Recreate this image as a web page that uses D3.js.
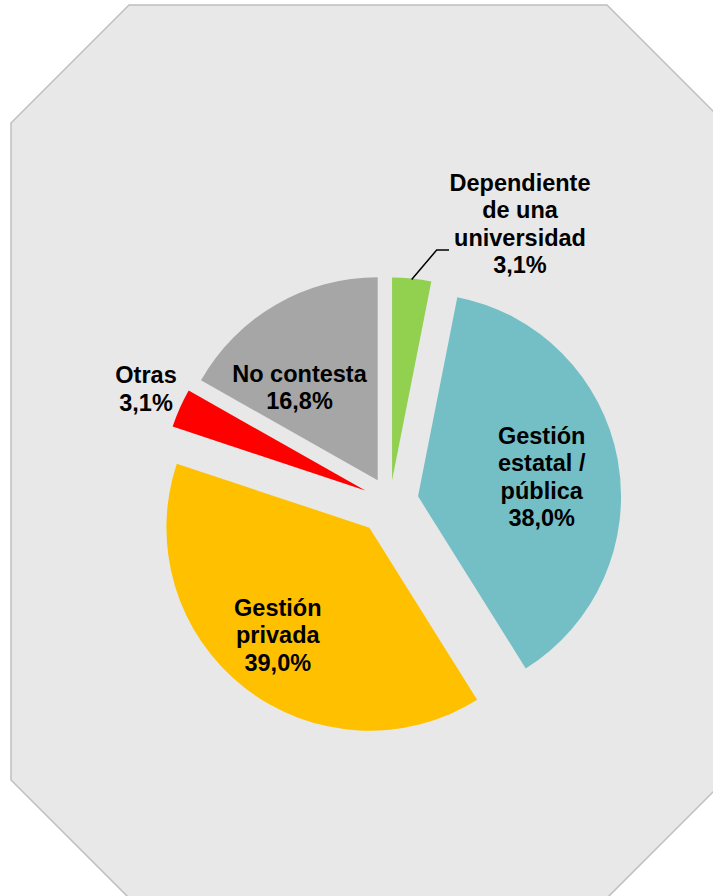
<!DOCTYPE html>
<html>
<head>
<meta charset="utf-8">
<script src="https://cdn.jsdelivr.net/npm/d3@7"></script>
<style>
  body { margin: 0; background: #fff; }
  text { font-family: "Liberation Sans", Arial, sans-serif; font-weight: bold; fill: #000; }
</style>
</head>
<body>
<div id="chart"></div>
<script>
// chart data
var categories = ["Dependiente de una universidad", "Gestión estatal / pública", "Gestión privada", "Otras", "No contesta"];
var values = [3.1, 38.0, 39.0, 3.1, 16.8];
var labelLines = [["Dependiente", "de una", "universidad"], ["Gestión", "estatal /", "pública"], ["Gestión", "privada"], ["Otras"], ["No contesta"]];
var colors = ["#92d050", "#73bfc5", "#ffc000", "#ff0000", "#a6a6a6"];

// layout
var width = 713, height = 896;
var cx = 390, cy = 501.5, radius = 203;
var explode = [21, 28.5, 33.3, 27, 24.5];          // px pulled out along slice bisector
var labelOffset = [[130, -277.5], [151.7, -24.5], [-112.2, 133.5], [-244, -112.5], [-90.5, -114]]; // label block centre, relative to pie centre
var fontSize = 23.5, lineH = 27.5;

var locale = d3.formatLocale({decimal: ",", thousands: ".", grouping: [3]});
var fmt = locale.format(".1f");

var svg = d3.select("#chart").append("svg")
    .attr("width", width)
    .attr("height", height);

// octagon background
var cut = 118;
var oLeft = 11, oRight = 725, oTop = 5, oBottom = 898;
var octagon = [[oLeft, oTop + cut], [oLeft + cut, oTop], [oRight - cut, oTop], [oRight, oTop + cut],
               [oRight, oBottom - cut], [oRight - cut, oBottom], [oLeft + cut, oBottom], [oLeft, oBottom - cut]];
svg.append("polygon")
    .attr("points", octagon.map(function(p) { return p.join(","); }).join(" "))
    .attr("fill", "#e8e8e8")
    .attr("stroke", "#bfbfbf")
    .attr("stroke-width", 1.5);

var data = categories.map(function(c, i) { return {name: c, value: values[i], idx: i}; });

var pie = d3.pie().sort(null).value(function(d) { return d.value; });
var arc = d3.arc().innerRadius(0).outerRadius(radius);

var arcs = pie(data);

var g = svg.append("g").attr("transform", "translate(" + cx + "," + cy + ")");

g.selectAll(".slice")
    .data(arcs)
    .enter()
    .append("path")
    .attr("class", "slice")
    .attr("fill", function(d) { return colors[d.data.idx]; })
    .attr("transform", function(d) {
        var a = (d.startAngle + d.endAngle) / 2;
        var e = explode[d.data.idx];
        return "translate(" + (Math.sin(a) * e) + "," + (-Math.cos(a) * e) + ")";
    })
    .attr("d", arc);

// leader line for the small top slice
var first = arcs[0];
var fa = (first.startAngle + first.endAngle) / 2;
var fe = explode[0];
var edgePt = [Math.sin(fa) * (fe + radius - 1), -Math.cos(fa) * (fe + radius - 1)];
var lab0 = labelOffset[0];
var elbowY = lab0[1] + 26;
g.append("path")
    .attr("d", "M" + edgePt[0] + "," + edgePt[1] +
               "L" + (edgePt[0] + 25) + "," + elbowY +
               "L" + (lab0[0] - 71) + "," + elbowY)
    .attr("fill", "none")
    .attr("stroke", "#000")
    .attr("stroke-width", 1.5);

// labels
var labels = g.selectAll(".label")
    .data(arcs)
    .enter()
    .append("text")
    .attr("class", "label")
    .attr("text-anchor", "middle")
    .style("font-size", fontSize + "px");

labels.each(function(d) {
    var lines = labelLines[d.data.idx].concat([fmt(d.data.value) + "%"]);
    var off = labelOffset[d.data.idx];
    var firstBase = off[1] - (lines.length - 1) * lineH / 2 + 8;
    var t = d3.select(this);
    lines.forEach(function(line, j) {
        t.append("tspan")
            .attr("x", off[0])
            .attr("y", firstBase + j * lineH)
            .text(line);
    });
});
</script>
</body>
</html>
